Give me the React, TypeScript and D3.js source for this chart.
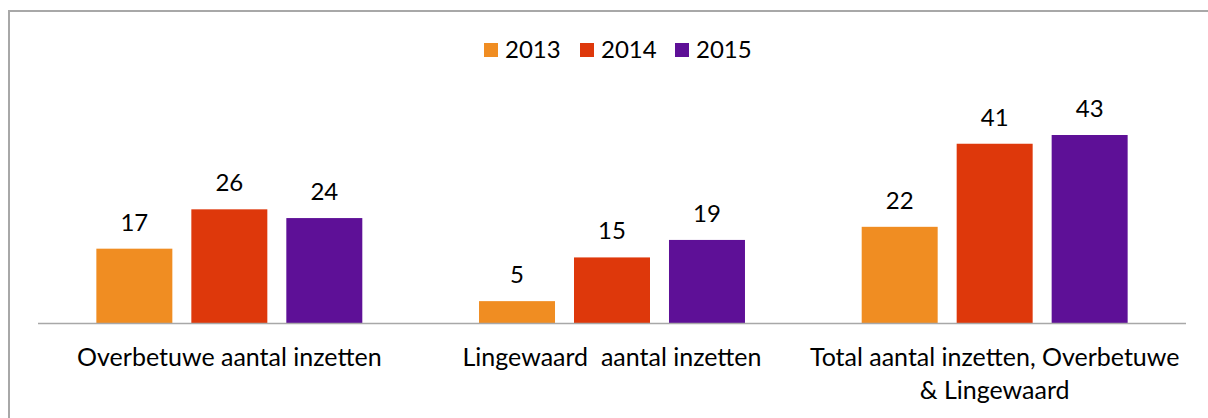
import React from "react";
import * as d3 from "d3";

const categories = [
  ["Overbetuwe aantal inzetten"],
  ["Lingewaard  aantal inzetten"],
  ["Total aantal inzetten, Overbetuwe", "& Lingewaard"],
];
const years = ["2013", "2014", "2015"];
const v2013 = [17, 5, 22];
const v2014 = [26, 15, 41];
const v2015 = [24, 19, 43];
const colors = ["#F08D22", "#DE380B", "#5E1097"];

const W = 1208;
const H = 418;
const FONT = "Lato, 'Open Sans', sans-serif";
const FS = 24;
const FS_CAT = 25;

export default function App() {
  const series = [v2013, v2014, v2015];
  const plotLeft = 38;
  const plotRight = 1186;
  const baseY = 323;
  const x0 = d3
    .scaleBand<number>()
    .domain(categories.map((_, i) => i))
    .range([plotLeft, plotRight])
    .paddingInner(0.305)
    .paddingOuter(0.1525);
  const x1 = d3
    .scaleBand<number>()
    .domain(years.map((_, i) => i))
    .range([0, x0.bandwidth()])
    .paddingInner(0.2);
  const y = d3.scaleLinear().domain([0, 50]).range([baseY, baseY - 218.6]);

  const legendX = [484, 580, 675];

  return (
    <svg
      width={W}
      height={H}
      style={{ position: "absolute", left: 0, top: 0, background: "#fff" }}
      fontFamily={FONT}
    >
      <rect x={0} y={0} width={W} height={H} fill="#fff" />
      <rect x={9} y={11} width={1400} height={600} fill="none" stroke="#A8A8A8" strokeWidth={2} />
      {years.map((yr, i) => (
        <g key={yr}>
          <rect x={legendX[i]} y={43} width={14} height={14} fill={colors[i]} />
          <text x={legendX[i] + 21} y={58} fontSize={FS} fill="#000">
            {yr}
          </text>
        </g>
      ))}
      {categories.map((cat, ci) => (
        <g key={ci} transform={`translate(${x0(ci)},0)`}>
          {series.map((s, si) => {
            const bx = x1(si)!;
            const bw = x1.bandwidth();
            const top = y(s[ci]);
            return (
              <g key={si}>
                <rect x={bx} y={top} width={bw} height={baseY - top} fill={colors[si]} />
                <text
                  x={bx + bw / 2}
                  y={top - 18}
                  textAnchor="middle"
                  fontSize={FS}
                  fill="#000"
                >
                  {s[ci]}
                </text>
              </g>
            );
          })}
          {cat.map((line, li) => (
            <text
              key={li}
              x={x0.bandwidth() / 2}
              y={366 + li * 33}
              textAnchor="middle"
              fontSize={FS_CAT}
              fill="#000"
              style={{ whiteSpace: "pre" }}
            >
              {line}
            </text>
          ))}
        </g>
      ))}
      <line x1={plotLeft} x2={plotRight} y1={baseY + 0.5} y2={baseY + 0.5} stroke="#A8A8A8" strokeWidth={1.5} />
    </svg>
  );
}
